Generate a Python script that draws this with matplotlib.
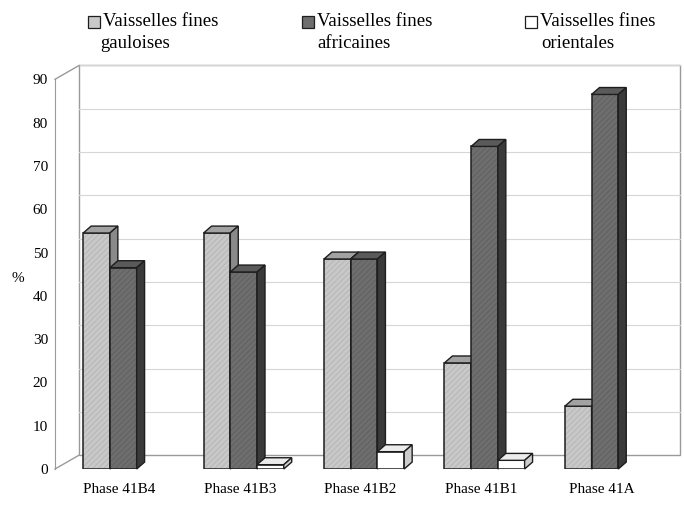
import matplotlib.pyplot as plt
from matplotlib.patches import Polygon, Rectangle

plt.rcParams['font.family'] = ['Liberation Serif', 'DejaVu Serif']
plt.rcParams['hatch.linewidth'] = 0.5

# data (%)
phases = ["Phase 41B4", "Phase 41B3", "Phase 41B2", "Phase 41B1", "Phase 41A"]
gauloises = [54.5, 54.5, 48.5, 24.5, 14.5]
africaines = [46.5, 45.5, 48.5, 74.5, 86.5]
orientales = [0, 1, 4, 2, 0]
series_names = ["Vaisselles fines\ngauloises", "Vaisselles fines\nafricaines",
                "Vaisselles fines\norientales"]
yticks = list(range(0, 100, 10))

# (front, top, side, hatch) shades for each series
shades = [("#c8c8c8", "#a2a2a2", "#8a8a8a", "#b0b0b0"),
          ("#6e6e6e", "#5a5a5a", "#3a3a3a", "#5c5c5c"),
          ("#ffffff", "#ececec", "#cdcdcd", None)]

w = 0.222          # bar width (category units)
ddx, ddy = 0.066, 1.6   # bar depth
wdx, wdy = 0.2, 3.2     # wall depth
x0, x1 = -0.567, 4.64

fig = plt.figure(figsize=(6.84, 5.08), dpi=100)
ax = fig.add_axes([55 / 684, 39 / 508, 627 / 684, 389.7 / 508])
ax.set_xlim(x0, x1)
ax.set_ylim(0, 90)

# back wall + side wall
wall_r = x1 - 0.016
ax.add_patch(Rectangle((x0 + wdx, wdy), wall_r - x0 - wdx, 90, facecolor="white",
                       edgecolor="#9a9a9a", lw=1, clip_on=False, zorder=0))
for v in yticks[1:]:
    ax.plot([x0 + wdx, wall_r], [v + wdy, v + wdy], color="#d6d6d6", lw=0.8,
            zorder=0.5, clip_on=False)
for v in (0, 90):
    ax.plot([x0, x0 + wdx], [v, v + wdy], color="#9a9a9a", lw=1, clip_on=False)

z = 2
for i in range(len(phases)):
    for k, vals in enumerate([gauloises, africaines, orientales]):
        h = vals[i]
        if h <= 0:
            continue
        front, top, side, hc = shades[k]
        xl = i + (k - 1) * w - w / 2
        xr = xl + w
        ax.bar(xl, h, width=w, align="edge", color=front, linewidth=0, zorder=z)
        if hc:
            ax.bar(xl, h, width=w, align="edge", facecolor="none", edgecolor=hc,
                   hatch="//////", linewidth=0, zorder=z + 0.1)
        ax.bar(xl, h, width=w, align="edge", facecolor="none", edgecolor="#1e1e1e",
               linewidth=1.1, zorder=z + 0.2)
        ax.add_patch(Polygon([(xl, h), (xl + ddx, h + ddy), (xr + ddx, h + ddy), (xr, h)],
                             facecolor=top, edgecolor="#1e1e1e", lw=1, zorder=z + 0.2,
                             clip_on=False))
        ax.add_patch(Polygon([(xr, 0), (xr + ddx, ddy), (xr + ddx, h + ddy), (xr, h)],
                             facecolor=side, edgecolor="#1e1e1e", lw=1, zorder=z + 0.2,
                             clip_on=False))
        z += 1

for s in ["top", "right", "bottom"]:
    ax.spines[s].set_visible(False)
ax.spines["left"].set_color("#9a9a9a")
ax.set_yticks(yticks)
ax.tick_params(axis="y", length=0, pad=5, labelsize=11)
ax.set_xticks([i - 0.03 for i in range(len(phases))])
ax.set_xticklabels(phases, fontsize=11)
ax.tick_params(axis="x", length=0, pad=10)
fig.text(18 / 684, 1 - 278 / 508, "%", fontsize=11, ha="center", va="center")

# legend
leg_x = [88, 302, 525]
second_off = [12, 15, 16]
for k, name in enumerate(series_names):
    first, second = name.split("\n")
    fx = leg_x[k] / 684
    fig.patches.append(Rectangle((fx, 1 - 28 / 508), 12 / 684, 12 / 508,
                                 transform=fig.transFigure, facecolor=shades[k][0],
                                 edgecolor="#1e1e1e", lw=0.9))
    fig.text(fx + 15 / 684, 1 - 21 / 508, first, fontsize=13.5, va="center", ha="left")
    fig.text(fx + second_off[k] / 684, 1 - 44 / 508, second, fontsize=13.5,
             va="center", ha="left")

fig.savefig("out.png", dpi=100)
